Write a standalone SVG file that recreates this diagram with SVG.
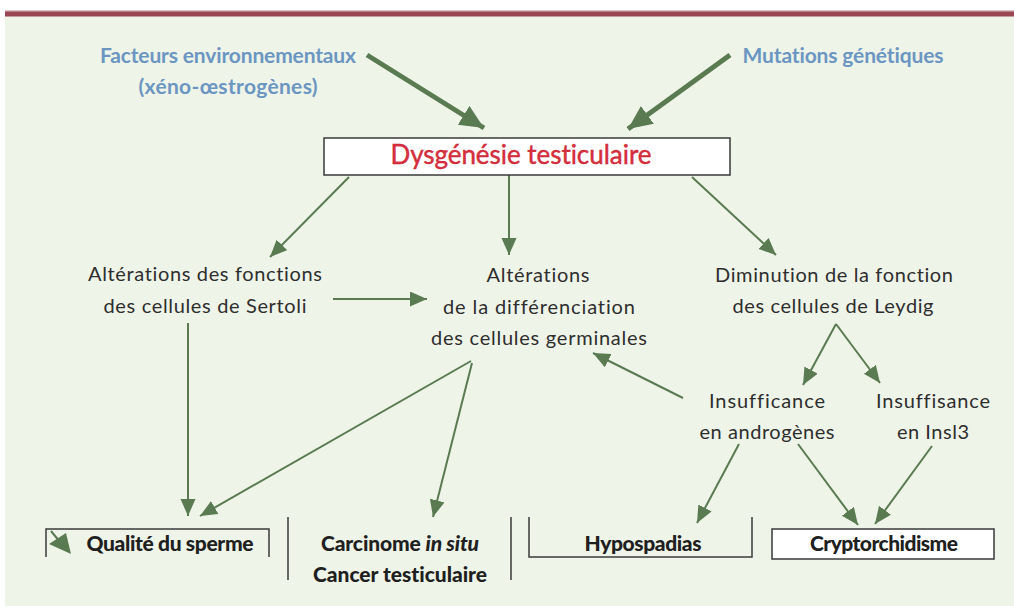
<svg xmlns="http://www.w3.org/2000/svg" width="1014" height="610" viewBox="0 0 1014 610">
<style>
text{font-variant-ligatures:none}
.bg{fill:#eef4e8}
.lbl{font-family:Lato,"Open Sans","Liberation Sans",sans-serif;font-size:20px;fill:#2e2e2e;text-anchor:middle}
.blue{font-family:Lato,"Open Sans","Liberation Sans",sans-serif;font-size:21px;font-weight:bold;fill:#6b96c2;text-anchor:middle}
.bold{font-family:Lato,"Open Sans","Liberation Sans",sans-serif;font-size:21px;font-weight:900;fill:#1f1f1f;text-anchor:middle}
.title{font-family:Lato,"Open Sans","Liberation Sans",sans-serif;font-size:26px;fill:#d7303f;stroke:#c8202f;stroke-width:0.4;text-anchor:middle}
.conn{stroke:#5a7b52;stroke-width:2;fill:none;marker-end:url(#ah)}
.thick{stroke:#5a7b52;stroke-width:5;fill:none;marker-end:url(#ahb)}
.frame{stroke:#3a3a3a;stroke-width:1.5;fill:none}
.box{stroke:#3a3a3a;stroke-width:1.5;fill:#ffffff}
</style>
<defs>
<marker id="ah" markerUnits="userSpaceOnUse" markerWidth="18" markerHeight="16" refX="17" refY="7.5" orient="auto"><path d="M0,0 L17,7.5 L0,15 z" fill="#5a7b52"/></marker>
<marker id="ahb" markerUnits="userSpaceOnUse" markerWidth="26" markerHeight="24" refX="24" refY="11" orient="auto"><path d="M0,0 L24,11 L0,22 z" fill="#5a7b52"/></marker>
</defs>
<rect x="0" y="0" width="1014" height="610" fill="#ffffff"/>
<rect class="bg" x="5" y="16" width="1009" height="590"/>
<rect x="5" y="10.5" width="1009" height="1.5" fill="#b98088"/>
<rect x="5" y="12" width="1009" height="4.5" fill="#9b4653"/>

<g id="connectors">
<line class="thick" x1="367" y1="55" x2="484" y2="128"/>
<line class="thick" x1="730" y1="55" x2="628" y2="129"/>
<line class="conn" x1="349" y1="177" x2="270" y2="257"/>
<line class="conn" x1="509" y1="175" x2="509" y2="255"/>
<line class="conn" x1="692" y1="177" x2="776" y2="255"/>
<line class="conn" x1="333" y1="299" x2="427" y2="299"/>
<line class="conn" x1="188" y1="323" x2="188" y2="516"/>
<line class="conn" x1="471" y1="361" x2="200" y2="516"/>
<line class="conn" x1="472" y1="363" x2="433" y2="517"/>
<line class="conn" x1="836" y1="324" x2="803" y2="385"/>
<line class="conn" x1="836" y1="324" x2="880" y2="383"/>
<line class="conn" x1="683" y1="398" x2="593" y2="353"/>
<line class="conn" x1="739" y1="444" x2="697" y2="523"/>
<line class="conn" x1="798" y1="444" x2="858" y2="525"/>
<line class="conn" x1="932" y1="446" x2="875" y2="524"/>
</g>

<g id="n-facteurs">
<text class="blue" x="228" y="63" textLength="256">Facteurs environnementaux</text>
<text class="blue" x="228" y="94" textLength="179">(xéno-œstrogènes)</text>
</g>
<g id="n-mutations">
<text class="blue" x="843" y="63" textLength="201">Mutations génétiques</text>
</g>
<g id="n-dysgenesie">
<rect class="box" x="324" y="138" width="406" height="37"/>
<text class="title" x="521" y="164" textLength="261">Dysgénésie testiculaire</text>
</g>
<g id="n-sertoli">
<text class="lbl" x="205" y="281" textLength="234">Altérations des fonctions</text>
<text class="lbl" x="205" y="313" textLength="203">des cellules de Sertoli</text>
</g>
<g id="n-germinales">
<text class="lbl" x="538" y="282" textLength="103">Altérations</text>
<text class="lbl" x="539" y="314" textLength="192">de la différenciation</text>
<text class="lbl" x="539" y="345" textLength="216">des cellules germinales</text>
</g>
<g id="n-leydig">
<text class="lbl" x="834" y="282" textLength="238">Diminution de la fonction</text>
<text class="lbl" x="833" y="313" textLength="201">des cellules de Leydig</text>
</g>
<g id="n-androgenes">
<text class="lbl" x="767" y="408" textLength="116">Insufficance</text>
<text class="lbl" x="767" y="439" textLength="135">en androgènes</text>
</g>
<g id="n-insl3">
<text class="lbl" x="933" y="408" textLength="114">Insuffisance</text>
<text class="lbl" x="933" y="439" textLength="72">en Insl3</text>
</g>
<g id="n-qualite">
<path class="frame" d="M46,557 V529 H269 V557"/>
<line x1="51" y1="531" x2="60" y2="542" stroke="#5a7b52" stroke-width="2"/>
<polygon points="71,554 49,544 66,533" fill="#5a7b52"/>
<text class="bold" x="170" y="551" textLength="167">Qualité du sperme</text>
</g>
<g id="n-carcinome">
<line class="frame" x1="288" y1="517" x2="288" y2="580"/>
<line class="frame" x1="511" y1="517" x2="511" y2="580"/>
<text class="bold" x="400" y="551" textLength="158">Carcinome <tspan font-style="italic">in situ</tspan></text>
<text class="bold" x="400" y="582" textLength="174">Cancer testiculaire</text>
</g>
<g id="n-hypospadias">
<path class="frame" d="M529,517 V557 H752 V517"/>
<text class="bold" x="643" y="551" textLength="117">Hypospadias</text>
</g>
<g id="n-cryptorchidisme">
<rect class="box" x="772" y="529" width="222" height="30"/>
<text class="bold" x="884" y="551" textLength="148">Cryptorchidisme</text>
</g>
</svg>
